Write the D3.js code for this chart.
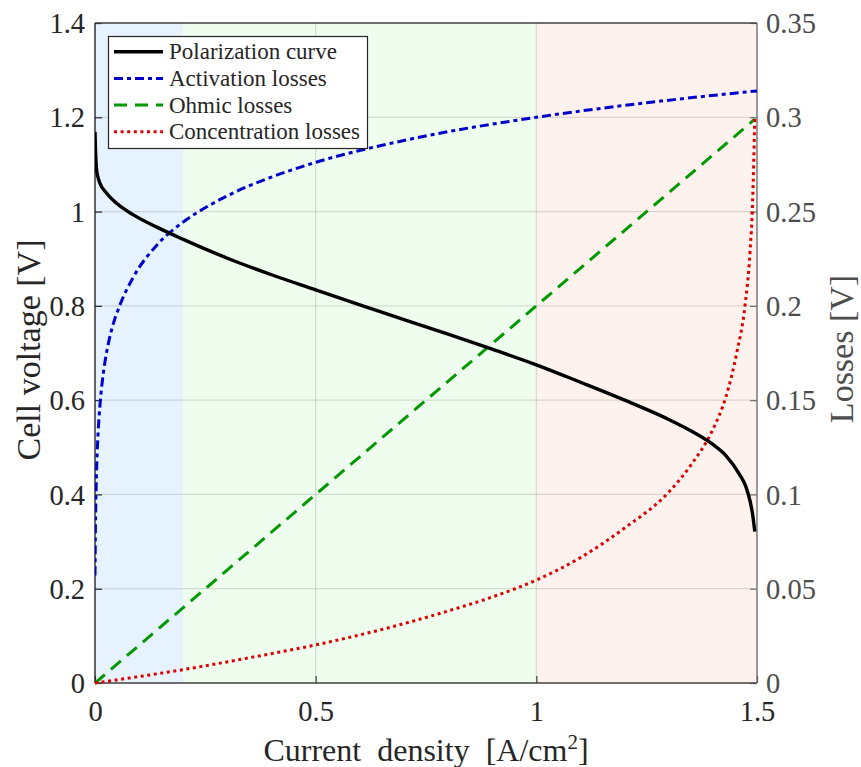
<!DOCTYPE html>
<html>
<head>
<meta charset="utf-8">
<script src="https://cdn.jsdelivr.net/npm/d3@7"></script>
<style>
  html, body { margin: 0; padding: 0; background: #ffffff; }
  svg { display: block; }
</style>
</head>
<body>
<svg id="chart" width="861" height="767"></svg>
<script>
// ---------------- data ----------------
const xTicks = [0, 0.5, 1, 1.5];
const xTickLabels = ["0", "0.5", "1", "1.5"];
const voltageTicks = [0, 0.2, 0.4, 0.6, 0.8, 1, 1.2, 1.4];
const voltageTickLabels = ["0", "0.2", "0.4", "0.6", "0.8", "1", "1.2", "1.4"];
const lossTicks = [0, 0.05, 0.1, 0.15, 0.2, 0.25, 0.3, 0.35];
const lossTickLabels = ["0", "0.05", "0.1", "0.15", "0.2", "0.25", "0.3", "0.35"];

const regionStarts = [0, 0.2, 1.0];
const regionEnds = [0.2, 1.0, 1.5];

// Polarization curve (left axis, cell voltage)
const polCurrent = [0, 0.001, 0.0037, 0.007, 0.0113, 0.0264, 0.049, 0.087, 0.14, 0.2, 0.3, 0.4, 0.5, 0.6, 0.7, 0.8, 0.9, 1.0, 1.1, 1.2, 1.3, 1.35, 1.4, 1.43, 1.46, 1.475, 1.485, 1.49, 1.495];
const polVoltage = [1.169, 1.135, 1.088, 1.072, 1.060, 1.039, 1.0175, 0.993, 0.967, 0.941, 0.901, 0.866, 0.834, 0.802, 0.771, 0.740, 0.708, 0.675, 0.638, 0.600, 0.559, 0.535, 0.506, 0.482, 0.443, 0.416, 0.383, 0.358, 0.321];

// Activation losses (right axis)
const actCurrent = [0, 0.001, 0.002, 0.004, 0.007, 0.0113, 0.016, 0.0227, 0.031, 0.0415, 0.0566, 0.0868, 0.14, 0.2, 0.26, 0.3, 0.4, 0.5, 0.7, 1.0, 1.25, 1.5];
const actLoss = [0.057, 0.083, 0.0977, 0.1159, 0.1325, 0.1475, 0.1588, 0.1705, 0.1808, 0.1906, 0.2005, 0.2152, 0.2322, 0.2445, 0.2534, 0.2584, 0.2683, 0.2761, 0.2877, 0.300, 0.3077, 0.314];

// Ohmic losses (right axis)
const ohmCurrent = [0, 0.5, 1.0, 1.495];
const ohmLoss = [0, 0.1, 0.2, 0.299];

// Concentration losses (right axis)
const concCurrent = [0, 0.1, 0.2, 0.35, 0.5, 0.65, 0.8, 0.9, 1.0, 1.1, 1.2, 1.3, 1.35, 1.4, 1.43, 1.454, 1.473, 1.484, 1.49, 1.495];
const concLoss = [0, 0.0034, 0.0071, 0.0134, 0.0202, 0.0284, 0.0382, 0.0456, 0.0546, 0.0665, 0.0822, 0.1012, 0.1155, 0.1345, 0.152, 0.175, 0.2005, 0.228, 0.255, 0.300];

const legendLabels = ["Polarization curve", "Activation losses", "Ohmic losses", "Concentration losses"];

// ---------------- layout ----------------
const pL = 95, pR = 757, pT = 23, pB = 683;
const FONT = "'Liberation Serif', 'Times New Roman', serif";
const svg = d3.select("#chart");

const x = d3.scaleLinear().domain([0, 1.5]).range([pL, pR]);
const yV = d3.scaleLinear().domain([0, 1.4]).range([pB, pT]);
const yL = d3.scaleLinear().domain([0, 0.35]).range([pB, pT]);

// shaded regions
const regionFill = ["#e6f2fd", "#effdee", "#fdf2ee"];
svg.append("g").selectAll("rect")
  .data(regionStarts.map((s, i) => ({ s, e: regionEnds[i], c: regionFill[i] })))
  .join("rect")
  .attr("x", d => x(d.s))
  .attr("y", pT)
  .attr("width", d => x(d.e) - x(d.s))
  .attr("height", pB - pT)
  .attr("fill", d => d.c);

// grid
const grid = svg.append("g").attr("stroke", "#262626").attr("stroke-opacity", 0.15).attr("stroke-width", 1.2);
grid.selectAll("line.v").data(xTicks.slice(1, -1)).join("line")
  .attr("x1", d => x(d)).attr("x2", d => x(d)).attr("y1", pT).attr("y2", pB);
grid.selectAll("line.h").data(voltageTicks.slice(1, -1)).join("line")
  .attr("y1", d => yV(d)).attr("y2", d => yV(d)).attr("x1", pL).attr("x2", pR);

// axes
const axisBottom = d3.axisBottom(x).tickValues(xTicks).tickSize(-7).tickFormat((d, i) => xTickLabels[i]);
const gx = svg.append("g").attr("transform", `translate(0,${pB})`).call(axisBottom);
gx.select(".domain").remove();
gx.selectAll(".tick line").attr("stroke", "#404040").attr("stroke-width", 1.2);
gx.selectAll(".tick text").attr("font-family", FONT).attr("font-size", 28.5).attr("fill", "#262626").attr("y", 18).attr("dy", "0.71em");

const axisLeft = d3.axisLeft(yV).tickValues(voltageTicks).tickSize(-7).tickFormat((d, i) => voltageTickLabels[i]);
const gy = svg.append("g").attr("transform", `translate(${pL},0)`).call(axisLeft);
gy.select(".domain").remove();
gy.selectAll(".tick line").attr("stroke", "#262626").attr("stroke-width", 1.2);
gy.selectAll(".tick text").attr("font-family", FONT).attr("font-size", 28.5).attr("fill", "#262626").attr("x", -10).attr("dy", "0.34em");

const axisRight = d3.axisRight(yL).tickValues(lossTicks).tickSize(-7).tickFormat((d, i) => lossTickLabels[i]);
const gr = svg.append("g").attr("transform", `translate(${pR},0)`).call(axisRight);
gr.select(".domain").remove();
gr.selectAll(".tick line").attr("stroke", "#707070").attr("stroke-width", 1.2);
gr.selectAll(".tick text").attr("font-family", FONT).attr("font-size", 28.5).attr("fill", "#4d4d4d").attr("x", 9).attr("dy", "0.34em");

// box lines
svg.append("line").attr("x1", pL).attr("x2", pR).attr("y1", pB).attr("y2", pB).attr("stroke", "#404040").attr("stroke-width", 1.4);
svg.append("line").attr("x1", pL).attr("x2", pR).attr("y1", pT).attr("y2", pT).attr("stroke", "#404040").attr("stroke-width", 1.4);
svg.append("line").attr("x1", pL).attr("x2", pL).attr("y1", pT).attr("y2", pB).attr("stroke", "#262626").attr("stroke-width", 1.4);
svg.append("line").attr("x1", pR).attr("x2", pR).attr("y1", pT).attr("y2", pB).attr("stroke", "#707070").attr("stroke-width", 1.4);

// clip
svg.append("clipPath").attr("id", "plotclip").append("rect")
  .attr("x", pL).attr("y", pT - 2).attr("width", pR - pL + 1).attr("height", pB - pT + 4);
const plot = svg.append("g").attr("clip-path", "url(#plotclip)");

const zip = (a, b) => a.map((v, i) => [v, b[i]]);
const lineV = d3.line().x(d => x(d[0])).y(d => yV(d[1])).curve(d3.curveMonotoneX);
const lineL = d3.line().x(d => x(d[0])).y(d => yL(d[1])).curve(d3.curveMonotoneX);
const lineLin = d3.line().x(d => x(d[0])).y(d => yL(d[1]));

const styles = [
  { color: "#000000", width: 3.4, dash: null },
  { color: "#0000cc", width: 3.0, dash: "9,4,4,4" },
  { color: "#009900", width: 3.0, dash: "13,8" },
  { color: "#dd0000", width: 3.0, dash: "3,3.6" }
];

plot.append("path").datum(zip(ohmCurrent, ohmLoss)).attr("d", lineLin)
  .attr("fill", "none").attr("stroke", styles[2].color).attr("stroke-width", styles[2].width).attr("stroke-dasharray", styles[2].dash);
plot.append("path").datum(zip(concCurrent, concLoss)).attr("d", lineL)
  .attr("fill", "none").attr("stroke", styles[3].color).attr("stroke-width", styles[3].width).attr("stroke-dasharray", styles[3].dash);
plot.append("path").datum(zip(actCurrent, actLoss)).attr("d", lineL)
  .attr("fill", "none").attr("stroke", styles[1].color).attr("stroke-width", styles[1].width).attr("stroke-dasharray", styles[1].dash);
plot.append("path").datum(zip(polCurrent, polVoltage)).attr("d", lineV)
  .attr("fill", "none").attr("stroke", styles[0].color).attr("stroke-width", styles[0].width).attr("stroke-linejoin", "round");

// legend
const lg = svg.append("g");
lg.append("rect").attr("x", 108.5).attr("y", 36.5).attr("width", 259).attr("height", 112)
  .attr("fill", "#ffffff").attr("stroke", "#262626").attr("stroke-width", 1.2);
legendLabels.forEach((lab, i) => {
  const cy = 51.7 + i * 26.7;
  lg.append("line").attr("x1", 114).attr("x2", 163).attr("y1", cy).attr("y2", cy)
    .attr("stroke", styles[i].color).attr("stroke-width", styles[i].width)
    .attr("stroke-dasharray", styles[i].dash);
  lg.append("text").attr("x", 169).attr("y", cy).attr("dy", "0.33em")
    .attr("font-family", FONT).attr("font-size", 23).attr("fill", "#262626").text(lab);
});

// axis labels
svg.append("text").attr("transform", `translate(40,350) rotate(-90)`)
  .attr("text-anchor", "middle").attr("font-family", FONT).attr("font-size", 34).attr("fill", "#262626")
  .text("Cell voltage [V]");
svg.append("text").attr("transform", `translate(853,349) rotate(-90)`)
  .attr("text-anchor", "middle").attr("font-family", FONT).attr("font-size", 34).attr("fill", "#4d4d4d")
  .text("Losses [V]");
const xl = svg.append("text").attr("x", (pL + pR) / 2).attr("y", 761)
  .attr("text-anchor", "middle").attr("font-family", FONT).attr("font-size", 32).attr("fill", "#262626");
xl.append("tspan").text("Current\u00a0 density\u00a0 [A/cm");
xl.append("tspan").attr("font-size", 21).attr("dy", -12).text("2");
xl.append("tspan").attr("dy", 12).text("]");
</script>
</body>
</html>
